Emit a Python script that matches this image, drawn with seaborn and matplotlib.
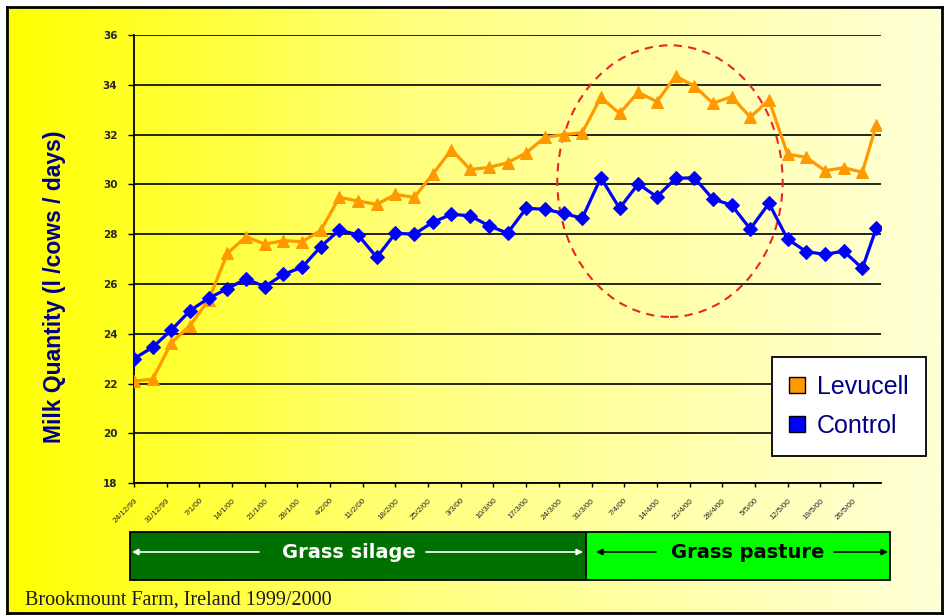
import matplotlib
matplotlib.use('Agg')
import matplotlib.pyplot as plt
import seaborn as sns
import numpy as np
import pandas as pd
from matplotlib.patches import Rectangle, Ellipse, FancyArrowPatch
from matplotlib.lines import Line2D
from matplotlib.colors import LinearSegmentedColormap

# ---------------- data ----------------
dates = ['1999-12-24', '1999-12-28', '2000-01-01', '2000-01-05', '2000-01-09',
         '2000-01-13', '2000-01-17', '2000-01-21', '2000-01-25', '2000-01-29',
         '2000-02-02', '2000-02-06', '2000-02-10', '2000-02-14', '2000-02-18',
         '2000-02-22', '2000-02-26', '2000-03-01', '2000-03-05', '2000-03-09',
         '2000-03-13', '2000-03-17', '2000-03-21', '2000-03-25', '2000-03-29',
         '2000-04-02', '2000-04-06', '2000-04-10', '2000-04-14', '2000-04-18',
         '2000-04-22', '2000-04-26', '2000-04-30', '2000-05-04', '2000-05-08',
         '2000-05-12', '2000-05-16', '2000-05-20', '2000-05-24', '2000-05-28',
         '2000-05-31']

levucell = [22.1, 22.18, 23.64, 24.33, 25.36, 27.23, 27.9, 27.6, 27.74, 27.7,
            28.15, 29.48, 29.33, 29.2, 29.6, 29.48, 30.41, 31.4, 30.6, 30.68,
            30.87, 31.27, 31.89, 32.0, 32.08, 33.5, 32.85, 33.7, 33.32, 34.35,
            33.95, 33.26, 33.52, 32.7, 33.39, 31.21, 31.09, 30.55, 30.67, 30.49,
            32.39]

control = [23.0, 23.46, 24.15, 24.93, 25.43, 25.81, 26.21, 25.89, 26.39, 26.67,
           27.5, 28.17, 27.97, 27.07, 28.04, 28.0, 28.48, 28.8, 28.74, 28.34,
           28.04, 29.04, 29.0, 28.84, 28.64, 30.27, 29.04, 30.02, 29.5, 30.24,
           30.27, 29.41, 29.17, 28.21, 29.24, 27.8, 27.3, 27.19, 27.32, 26.63,
           28.24]

tick_labels = ['24/12/99', '31/12/99', '7/1/00', '14/1/00', '21/1/00', '28/1/00',
               '4/2/00', '11/2/00', '18/2/00', '25/2/00', '3/3/00', '10/3/00',
               '17/3/00', '24/3/00', '31/3/00', '7/4/00', '14/4/00', '21/4/00',
               '28/4/00', '5/5/00', '12/5/00', '19/5/00', '26/5/00']

y_ticks = [18, 20, 22, 24, 26, 28, 30, 32, 34, 36]
series_names = ['Levucell', 'Control']
series_colors = {'Levucell': '#FF9900', 'Control': '#0000FF'}
series_markers = {'Levucell': '^', 'Control': 'D'}

# ---------------- figure ----------------
sns.set_style('white')
plt.rcParams['font.family'] = ['Liberation Sans', 'DejaVu Sans']

W, H = 944, 615
fig = plt.figure(figsize=(W / 100, H / 100), dpi=100)
fig.patch.set_facecolor('white')


def fx(px):
    return px / W


def fy(py):
    return 1 - py / H


# gradient background with border
bg = fig.add_axes([fx(7), fy(613), fx(941.5) - fx(7), fy(6.7) - fy(613)], zorder=0)
cmap = LinearSegmentedColormap.from_list(
    'bg', [(0, '#FFFF00'), (0.45, '#FFFF80'), (1, '#FFFFD8')])
grad = np.linspace(0, 1, 512).reshape(1, -1)
bg.imshow(grad, aspect='auto', cmap=cmap, extent=[0, 1, 0, 1])
bg.set_xticks([])
bg.set_yticks([])
for s in bg.spines.values():
    s.set_color('black')
    s.set_linewidth(2)

# main axes
ax = fig.add_axes([fx(134), fy(483.2), fx(881) - fx(134), fy(35) - fy(483.2)], zorder=1)
ax.patch.set_alpha(0)

df = pd.DataFrame({
    'date': pd.to_datetime(dates * 2),
    'value': levucell + control,
    'series': ['Levucell'] * len(levucell) + ['Control'] * len(control),
})

sns.lineplot(data=df, x='date', y='value', hue='series', style='series',
             hue_order=series_names, style_order=series_names,
             palette=series_colors, markers=series_markers, dashes=False,
             estimator=None, linewidth=2.3, markersize=8, legend=False, ax=ax)
for ln in ax.lines:
    ln.set_markeredgecolor(ln.get_color())
    ln.set_zorder(3)
ax.lines[0].set_markersize(9)
ax.lines[1].set_markersize(7)

ax.set_ylim(18, 36)
ax.set_xlim(pd.Timestamp('1999-12-24'), pd.Timestamp('2000-06-01'))
ax.set_yticks(y_ticks)
ax.set_yticklabels([str(v) for v in y_ticks], fontweight='bold', fontsize=7.5,
                   family='DejaVu Sans')
tick_pos = pd.to_datetime(tick_labels, format='%d/%m/%y')
ax.set_xticks(tick_pos)
ax.set_xticklabels(tick_labels, rotation=45, ha='right', rotation_mode='anchor',
                   fontsize=5.8)
ax.tick_params(axis='y', direction='out', length=4, width=1, color='black', pad=8, left=True)
ax.tick_params(axis='x', direction='out', length=3, width=1, color='black', pad=7, bottom=True)
ax.set_xlabel('')
ax.set_ylabel('')
ax.yaxis.grid(True, color='black', linewidth=1.2)
ax.xaxis.grid(False)
ax.set_axisbelow(True)
for side in ['top', 'right']:
    ax.spines[side].set_visible(False)
for side in ['left', 'bottom']:
    ax.spines[side].set_color('black')
    ax.spines[side].set_linewidth(1.3)

# highlight ellipse
ell = Ellipse((0.7175, 0.674), 0.3017, 0.606, transform=ax.transAxes, fill=False,
              edgecolor='#E8262A', linewidth=1.5, linestyle=(0, (4, 3)),
              clip_on=False, zorder=2)
ax.add_patch(ell)

# y label
fig.text(fx(54), fy(287), 'Milk Quantity (l /cows / days)', rotation=90,
         fontsize=16.5, fontweight='bold', color='#000080', ha='center', va='center')

# legend
handles = [Line2D([], [], marker='s', linestyle='', markerfacecolor=series_colors[n],
                  markeredgecolor='black', markersize=11) for n in series_names]
leg = fig.legend(handles, series_names, loc='upper left',
                 bbox_to_anchor=(fx(772), fy(357)), frameon=True, fancybox=False,
                 framealpha=1, edgecolor='black', facecolor='white', fontsize=18,
                 labelcolor='#000080', handlelength=0.6, handletextpad=0.5,
                 labelspacing=0.62, borderpad=0.7, borderaxespad=0)
leg.get_frame().set_linewidth(1.3)
leg.set_zorder(10)

# period bar
bar_top, bar_bot = 532, 580
fig.add_artist(Rectangle((fx(130), fy(bar_bot)), fx(586) - fx(130), fy(bar_top) - fy(bar_bot),
                         transform=fig.transFigure, facecolor='#007000',
                         edgecolor='black', linewidth=1.3, zorder=2))
fig.add_artist(Rectangle((fx(586), fy(bar_bot)), fx(890) - fx(586), fy(bar_top) - fy(bar_bot),
                         transform=fig.transFigure, facecolor='#00FF00',
                         edgecolor='black', linewidth=1.3, zorder=2))
ay = 552
for (x0, x1, c) in [(259, 132, 'white'), (426, 583, 'white'),
                    (656, 596, 'black'), (834, 888, 'black')]:
    fig.add_artist(FancyArrowPatch((fx(x0), fy(ay)), (fx(x1), fy(ay)),
                                   transform=fig.transFigure, arrowstyle='-|>',
                                   mutation_scale=9, color=c, linewidth=1.2,
                                   shrinkA=0, shrinkB=0, zorder=3))
fig.text(fx(349), fy(ay), 'Grass silage', color='white', fontsize=14,
         fontweight='bold', family='DejaVu Sans', ha='center', va='center', zorder=4)
fig.text(fx(748), fy(ay), 'Grass pasture', color='black', fontsize=14,
         fontweight='bold', family='DejaVu Sans', ha='center', va='center', zorder=4)

# footer
fig.text(fx(25), fy(600), 'Brookmount Farm, Ireland 1999/2000', family='Liberation Serif',
         fontsize=14.5, color='#1a1a1a', ha='left', va='center')

fig.savefig('out.png', dpi=100)
